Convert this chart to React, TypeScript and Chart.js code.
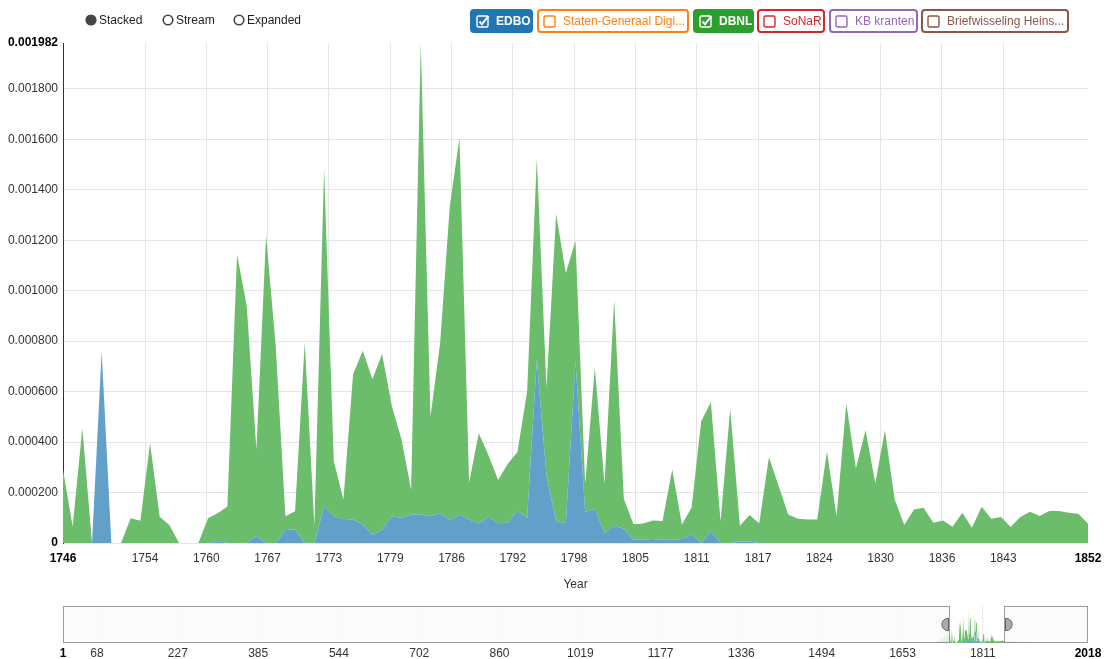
import React, { useEffect, useRef } from 'react';
import { Chart, registerables } from 'chart.js';

Chart.register(...registerables);

// ---------------- DATA ----------------
const FIRST_YEAR = 1746;
const LAST_YEAR = 1852;
const years: number[] = [];
for (let y = FIRST_YEAR; y <= LAST_YEAR; y++) years.push(y);

const UNIT = 1e-6; // values below are read in millionths

// EDBO relative frequency (x 1e-6), 1746..1852
const edboMicro = [
  0, 0, 0, 0, 760, 0, 0, 0, 0, 0, // 1746-1755
  0, 0, 0, 0, 0, 0, 8, 0, 0, 0, // 1756-1765
  28, 0, 0, 52, 54, 0, 0, 146, 106, 95, // 1766-1775
  93, 73, 33, 53, 106, 99, 113, 113, 106, 119, // 1776-1785
  90, 113, 93, 77, 104, 78, 80, 127, 100, 729, // 1786-1795
  267, 87, 78, 720, 123, 136, 40, 67, 56, 14, // 1796-1805
  13, 16, 13, 13, 16, 35, 0, 47, 0, 0, // 1806-1815
  6, 6, 0, 0, 0, 0, 0, 0, 0, 0, // 1816-1825
  0, 0, 0, 0, 0, 0, 0, 0, 0, 0, // 1826-1835
  0, 0, 0, 0, 0, 0, 0, 0, 0, 0, // 1836-1845
  0, 0, 0, 0, 0, 0, 0, // 1846-1852
];

// DBNL relative frequency (x 1e-6), 1746..1852
const dbnlMicro = [
  290, 65, 455, 0, 0, 0, 0, 98, 88, 395, // 1746-1755
  104, 71, 0, 0, 0, 98, 110, 145, 1145, 940, // 1756-1765
  342, 1218, 780, 54, 72, 795, 66, 1338, 219, 77, // 1766-1775
  576, 689, 616, 696, 437, 312, 97, 1869, 394, 673, // 1776-1785
  1245, 1492, 147, 358, 244, 172, 234, 234, 502, 795, // 1786-1795
  348, 1217, 992, 477, 111, 559, 194, 896, 118, 60, // 1796-1805
  64, 73, 74, 278, 57, 105, 483, 511, 85, 532, // 1806-1815
  62, 105, 77, 340, 227, 113, 96, 93, 93, 363, // 1816-1825
  107, 553, 296, 447, 237, 447, 173, 71, 133, 140, // 1826-1835
  80, 89, 64, 120, 60, 144, 96, 103, 63, 103, // 1836-1845
  124, 107, 127, 127, 120, 116, 76, // 1846-1852
];

// faint data visible only in the overview strip, outside the selected range
const ctxEarlyYears = [1718, 1722, 1725, 1728, 1731, 1733, 1736, 1738, 1741, 1743, 1745];
const ctxEarlyDbnlMicro = [80, 0, 200, 60, 350, 100, 500, 150, 650, 250, 400];
const ctxLateYears = [1860, 1870, 1880, 1890, 1900];
const ctxLateDbnlMicro = [90, 70, 60, 40, 0];

const Y_MAX = 0.001982;
const yTickValues = [0, 0.0002, 0.0004, 0.0006, 0.0008, 0.001, 0.0012, 0.0014, 0.0016, 0.0018, Y_MAX];

const xTickValues = [
  1746, 1754.48, 1760.82, 1767.16, 1773.5, 1779.84, 1786.18, 1792.52, 1798.86,
  1805.2, 1811.54, 1817.88, 1824.22, 1830.56, 1836.9, 1843.24, 1852,
];
const xTickLabels = [
  '1746', '1754', '1760', '1767', '1773', '1779', '1786', '1792', '1798',
  '1805', '1811', '1817', '1824', '1830', '1836', '1843', '1852',
];

const CTX_MIN = 1;
const CTX_MAX = 2018;
const ctxTickValues = [1, 68, 227, 385, 544, 702, 860, 1019, 1177, 1336, 1494, 1653, 1811, 2018];

const seriesNames = ['EDBO', 'Staten-Generaal Digi...', 'DBNL', 'SoNaR', 'KB kranten', 'Briefwisseling Heins...'];
const seriesColors = ['#1f77b4', '#ff7f0e', '#2ca02c', '#d62728', '#9467bd', '#8c564b'];
const seriesEnabled = [true, false, true, false, false, false];
const viewModes = ['Stacked', 'Stream', 'Expanded'];
const activeMode = 'Stacked';

// ---------------- STYLE ----------------
const FONT = '"Liberation Sans", Arial, sans-serif';
const BLUE_FILL = '#62a0ca';
const GREEN_FILL = '#6bbc6b';
const GRID = '#e5e5e5';
const buttonLayout = [
  { left: 470, width: 63 },
  { left: 537, width: 152 },
  { left: 693, width: 61 },
  { left: 757, width: 68 },
  { left: 829, width: 89 },
  { left: 921, width: 148 },
];
const modeLayout = [{ left: 85 }, { left: 162 }, { left: 233 }];

const brushPlugin = {
  id: 'brushOverlay',
  afterDatasetsDraw(chart: any) {
    const { ctx, chartArea: a, scales } = chart;
    const x = scales.x;
    const x0 = Math.round(x.getPixelForValue(FIRST_YEAR));
    const x1 = Math.round(x.getPixelForValue(LAST_YEAR));
    const top = Math.round(a.top);
    const bottom = Math.round(a.bottom);
    const h = bottom - top;
    ctx.save();
    ctx.fillStyle = 'rgba(250,250,250,0.82)';
    ctx.strokeStyle = 'rgba(0,0,0,0.38)';
    ctx.lineWidth = 1;
    ctx.fillRect(a.left, top, x0 - a.left, h);
    ctx.strokeRect(Math.round(a.left) + 0.5, top + 0.5, x0 - Math.round(a.left) - 1, h - 1);
    ctx.fillRect(x1, top, a.right - x1, h);
    ctx.strokeRect(x1 + 0.5, top + 0.5, Math.round(a.right) - x1 - 1, h - 1);
    // resize handles
    const hy0 = top + h / 3;
    const hy1 = top + (2 * h) / 3;
    const drawHandle = (px: number, dir: number) => {
      const r = (hy1 - hy0) / 2;
      ctx.beginPath();
      ctx.moveTo(px + 0.5 * dir, hy0);
      ctx.lineTo(px + dir * 1, hy0);
      ctx.arc(px + dir * 1, hy0 + r, r, -Math.PI / 2, Math.PI / 2, dir > 0 ? false : true);
      ctx.lineTo(px + 0.5 * dir, hy1);
      ctx.closePath();
      ctx.fillStyle = '#aaa';
      ctx.strokeStyle = '#666';
      ctx.fill();
      ctx.stroke();
    };
    drawHandle(x0 - 1, -1);
    drawHandle(x1 + 1, 1);
    ctx.restore();
  },
};

function MainChart() {
  const ref = useRef<HTMLCanvasElement>(null);
  useEffect(() => {
    const canvas = ref.current!;
    const edbo = years.map((y, i) => ({ x: y, y: edboMicro[i] * UNIT }));
    const dbnl = years.map((y, i) => ({ x: y, y: dbnlMicro[i] * UNIT }));
    const lastX = xTickValues.length - 1;
    const lastY = yTickValues.length - 1;
    const chart = new Chart(canvas, {
      type: 'line',
      data: {
        datasets: [
          { label: 'EDBO', data: edbo, fill: 'origin', backgroundColor: BLUE_FILL, borderWidth: 0, pointRadius: 0, tension: 0 },
          { label: 'DBNL', data: dbnl, fill: '-1', backgroundColor: GREEN_FILL, borderWidth: 0, pointRadius: 0, tension: 0 },
        ],
      },
      options: {
        animation: false,
        responsive: false,
        events: [],
        layout: { padding: { left: 0, right: 16, top: 43, bottom: 0 } },
        plugins: { legend: { display: false }, tooltip: { enabled: false } },
        scales: {
          x: {
            type: 'linear',
            min: FIRST_YEAR,
            max: LAST_YEAR,
            afterBuildTicks: (s: any) => {
              s.ticks = xTickValues.map((v) => ({ value: v }));
            },
            afterFit: (s: any) => {
              s.height = 57;
              s.paddingLeft = 0;
              s.paddingRight = 0;
            },
            grid: {
              drawTicks: false,
              color: (c: any) => (c.index === 0 || c.index === lastX ? 'rgba(0,0,0,0)' : GRID),
            },
            border: { display: false },
            ticks: {
              autoSkip: false,
              maxRotation: 0,
              padding: 8,
              callback: (_v: any, i: number) => xTickLabels[i],
              color: (c: any) => (c.index === 0 || c.index === lastX ? '#000' : '#333'),
              font: (c: any) => ({ family: FONT, size: 12, weight: c.index === 0 || c.index === lastX ? 'bold' : 'normal' }),
            },
            title: { display: true, text: 'Year', color: '#333', font: { family: FONT, size: 12 }, padding: { top: 0, bottom: 8 } },
          },
          y: {
            stacked: true,
            min: 0,
            max: Y_MAX,
            afterBuildTicks: (s: any) => {
              s.ticks = yTickValues.map((v) => ({ value: v }));
            },
            afterFit: (s: any) => {
              s.width = 63;
              s.paddingTop = 0;
              s.paddingBottom = 0;
            },
            grid: {
              drawTicks: false,
              color: (c: any) => (c.index === lastY ? 'rgba(0,0,0,0)' : GRID),
            },
            border: { display: true, color: '#333', width: 1 },
            ticks: {
              padding: 5,
              callback: (v: any) => (v === 0 ? '0' : Number(v).toFixed(6)),
              color: (c: any) => (c.index === 0 || c.index === lastY ? '#000' : '#333'),
              font: (c: any) => ({ family: FONT, size: 12, weight: c.index === 0 || c.index === lastY ? 'bold' : 'normal' }),
            },
          },
        },
      } as any,
    });
    return () => chart.destroy();
  }, []);
  return <canvas ref={ref} width={1104} height={600} style={{ position: 'absolute', left: 0, top: 0, width: 1104, height: 600 }} />;
}

function ContextChart() {
  const ref = useRef<HTMLCanvasElement>(null);
  useEffect(() => {
    const canvas = ref.current!;
    const allYears = [...ctxEarlyYears, ...years, ...ctxLateYears];
    const edboAll = [...ctxEarlyYears.map(() => 0), ...edboMicro, ...ctxLateYears.map(() => 0)];
    const dbnlAll = [...ctxEarlyDbnlMicro, ...dbnlMicro, ...ctxLateDbnlMicro];
    const lastC = ctxTickValues.length - 1;
    const chart = new Chart(canvas, {
      type: 'line',
      data: {
        datasets: [
          { data: allYears.map((y, i) => ({ x: y, y: edboAll[i] * UNIT })), fill: 'origin', backgroundColor: BLUE_FILL, borderWidth: 0, pointRadius: 0, tension: 0 },
          { data: allYears.map((y, i) => ({ x: y, y: dbnlAll[i] * UNIT })), fill: '-1', backgroundColor: GREEN_FILL, borderWidth: 0, pointRadius: 0, tension: 0 },
        ],
      },
      options: {
        animation: false,
        responsive: false,
        events: [],
        layout: { padding: { left: 63, right: 16, top: 6, bottom: 0 } },
        plugins: { legend: { display: false }, tooltip: { enabled: false } },
        scales: {
          x: {
            type: 'linear',
            min: CTX_MIN,
            max: CTX_MAX,
            afterBuildTicks: (s: any) => {
              s.ticks = ctxTickValues.map((v) => ({ value: v }));
            },
            afterFit: (s: any) => {
              s.height = 16;
              s.paddingLeft = 0;
              s.paddingRight = 0;
            },
            grid: {
              drawTicks: false,
              color: (c: any) => (c.index === 0 || c.index === lastC ? 'rgba(0,0,0,0)' : '#ececec'),
            },
            border: { display: false },
            ticks: {
              autoSkip: false,
              maxRotation: 0,
              padding: 3,
              callback: (v: any) => String(v),
              color: (c: any) => (c.index === 0 || c.index === lastC ? '#000' : '#333'),
              font: (c: any) => ({ family: FONT, size: 12, weight: c.index === 0 || c.index === lastC ? 'bold' : 'normal' }),
            },
          },
          y: { display: false, stacked: true, min: 0, max: Y_MAX },
        },
      } as any,
      plugins: [brushPlugin],
    });
    return () => chart.destroy();
  }, []);
  return <canvas ref={ref} width={1104} height={59} style={{ position: 'absolute', left: 0, top: 600, width: 1104, height: 59 }} />;
}

function CheckIcon({ checked, color }: { checked: boolean; color: string }) {
  return (
    <svg width={14} height={14} viewBox="0 0 14 14" style={{ marginRight: 6, flex: 'none' }}>
      <rect x={1} y={2} width={11} height={11} rx={1.5} fill="none" stroke={color} strokeWidth={1.4} />
      {checked ? <path d="M3.5 7.5 L6 10.2 L12.5 2" fill="none" stroke={color} strokeWidth={2} /> : null}
    </svg>
  );
}

function Controls() {
  return (
    <>
      {viewModes.map((m, i) => (
        <div
          key={m}
          style={{ position: 'absolute', left: modeLayout[i].left, top: 13, height: 14, display: 'flex', alignItems: 'center', font: `12px ${FONT}`, color: '#222' }}
        >
          <svg width={12} height={12} viewBox="0 0 12 12" style={{ marginRight: 2 }}>
            <circle cx={6} cy={6} r={4.8} fill={m === activeMode ? '#444' : '#fff'} stroke="#444" strokeWidth={1.6} />
          </svg>
          <span>{m}</span>
        </div>
      ))}
      {seriesNames.map((name, i) => {
        const on = seriesEnabled[i];
        const c = seriesColors[i];
        return (
          <div
            key={name}
            style={{
              position: 'absolute',
              left: buttonLayout[i].left,
              top: 9,
              width: buttonLayout[i].width,
              height: 24,
              boxSizing: 'border-box',
              border: `2px solid ${c}`,
              borderRadius: 4,
              background: on ? c : '#fff',
              color: on ? '#fff' : c,
              display: 'flex',
              alignItems: 'center',
              paddingLeft: 4,
              font: `${on ? 'bold ' : ''}12px ${FONT}`,
              whiteSpace: 'nowrap',
              overflow: 'hidden',
            }}
          >
            <CheckIcon checked={on} color={on ? '#fff' : c} />
            <span>{name}</span>
          </div>
        );
      })}
    </>
  );
}

export default function App() {
  return (
    <div style={{ position: 'absolute', left: 0, top: 0, width: 1104, height: 659, background: '#fff', overflow: 'hidden' }}>
      <MainChart />
      <ContextChart />
      <Controls />
    </div>
  );
}
